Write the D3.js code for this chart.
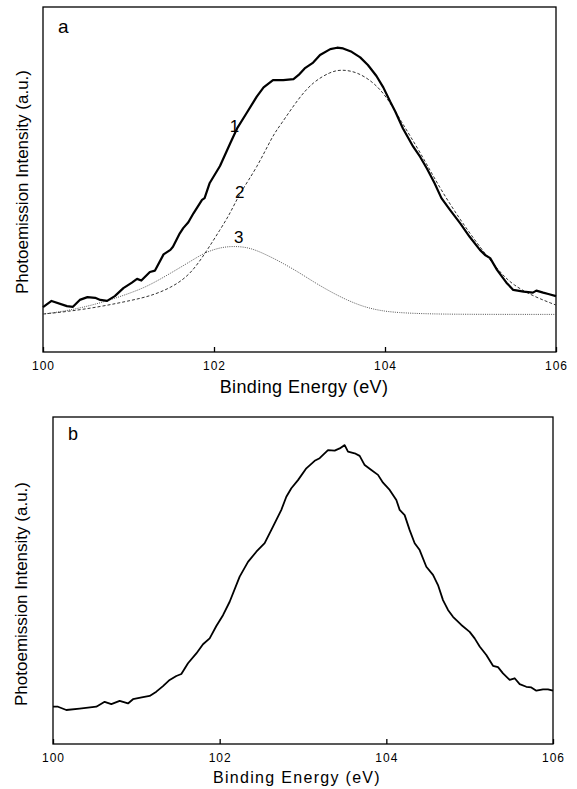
<!DOCTYPE html>
<html>
<head>
<meta charset="utf-8">
<script src="https://cdn.jsdelivr.net/npm/d3@7.9.0/dist/d3.min.js"></script>
<style>
  body { margin: 0; background: #fff; }
  svg text { font-family: "Liberation Sans", Arial, Helvetica, sans-serif; fill: #000; }
</style>
</head>
<body>
<svg id="chart" width="577" height="789"></svg>
<script>
// panel a: measured spectrum (1) and the two fitted components (2, 3)
const energyA1 = [100.00, 100.10, 100.28, 100.35, 100.43, 100.52, 100.61, 100.67, 100.75, 100.84,
  100.94, 101.04, 101.10, 101.15, 101.25, 101.31, 101.41, 101.49, 101.52, 101.60,
  101.64, 101.70, 101.76, 101.86, 101.89, 101.95, 102.07, 102.19, 102.27, 102.38,
  102.50, 102.58, 102.69, 102.81, 102.93, 102.99, 103.06, 103.16, 103.24, 103.36,
  103.44, 103.51, 103.61, 103.71, 103.80, 103.90, 103.98, 104.06, 104.12, 104.21,
  104.33, 104.41, 104.49, 104.58, 104.66, 104.76, 104.88, 104.99, 105.11, 105.17,
  105.23, 105.31, 105.42, 105.50, 105.62, 105.73, 105.77, 105.85, 105.91, 106.00];
const intensityA1 = [13.0, 14.8, 13.3, 13.1, 15.1, 15.9, 15.7, 15.1, 14.8, 16.2,
  18.5, 20.1, 21.2, 20.7, 23.2, 23.6, 28.3, 29.6, 30.5, 34.4,
  35.9, 37.6, 40.2, 44.1, 44.6, 49.0, 53.9, 60.5, 64.8, 69.2,
  74.0, 76.7, 78.8, 78.8, 79.1, 80.3, 82.2, 83.9, 86.1, 87.8,
  88.2, 88.0, 87.0, 85.4, 83.2, 80.0, 76.7, 72.6, 69.7, 64.8,
  59.5, 56.6, 53.2, 48.9, 44.6, 41.2, 37.3, 33.4, 29.6, 28.1,
  27.2, 23.8, 20.1, 18.0, 17.5, 17.2, 17.8, 17.2, 16.8, 16.2];

const energyA2 = [100.00, 100.28, 100.67, 101.06, 101.25, 101.49, 101.72, 101.91, 102.07, 102.19,
  102.30, 102.50, 102.69, 102.77, 102.99, 103.16, 103.36, 103.49, 103.67, 103.86,
  104.02, 104.18, 104.41, 104.64, 104.88, 105.11, 105.35, 105.50, 105.73, 106.00];
const intensityA2 = [11.0, 11.7, 13.1, 15.1, 16.2, 18.5, 22.3, 29.1, 35.4, 40.2,
  46.0, 53.3, 62.9, 65.5, 73.6, 78.3, 81.2, 81.9, 81.2, 78.3,
  74.0, 67.2, 58.0, 47.5, 38.3, 30.4, 22.9, 19.4, 16.2, 13.6];

const energyA3 = [100.00, 100.28, 100.67, 101.06, 101.25, 101.49, 101.72, 101.89, 102.07, 102.23,
  102.42, 102.62, 102.81, 103.01, 103.16, 103.36, 103.55, 103.75, 103.94, 104.14,
  104.53, 105.11, 106.00];
const intensityA3 = [11.0, 11.9, 14.1, 17.4, 19.4, 22.8, 26.2, 28.8, 30.3, 30.7,
  30.3, 28.1, 25.7, 22.8, 20.4, 17.5, 15.1, 13.1, 12.0, 11.4,
  11.0, 10.9, 10.9];

const curveLabels = ["1", "2", "3"];
const labelEnergy = [102.24, 102.30, 102.29];
const labelIntensity = [63.9, 44.7, 31.5];

// panel b: single spectrum
const energyB = [100.00, 100.06, 100.16, 100.32, 100.52, 100.62, 100.70, 100.80, 100.90, 100.96,
  101.08, 101.16, 101.24, 101.32, 101.40, 101.48, 101.54, 101.62, 101.72, 101.80,
  101.88, 101.96, 102.04, 102.12, 102.24, 102.34, 102.44, 102.54, 102.64, 102.74,
  102.80, 102.86, 102.94, 103.04, 103.14, 103.20, 103.30, 103.38, 103.44, 103.50,
  103.54, 103.62, 103.68, 103.74, 103.82, 103.90, 103.96, 104.04, 104.12, 104.16,
  104.22, 104.28, 104.34, 104.40, 104.48, 104.56, 104.62, 104.68, 104.74, 104.80,
  104.90, 105.00, 105.06, 105.12, 105.20, 105.28, 105.34, 105.40, 105.48, 105.54,
  105.60, 105.68, 105.74, 105.80, 105.88, 105.94, 106.00];
const intensityB = [11.4, 11.4, 10.4, 10.8, 11.4, 12.9, 12.2, 13.2, 12.4, 13.7,
  14.3, 14.7, 16.0, 17.7, 19.6, 20.8, 21.4, 24.7, 27.7, 30.5,
  32.3, 36.1, 39.4, 43.5, 51.2, 55.7, 58.8, 61.4, 66.5, 71.6,
  75.6, 78.2, 80.7, 84.3, 86.6, 87.4, 89.9, 89.7, 90.4, 91.4,
  89.4, 88.9, 88.1, 85.3, 83.8, 82.3, 79.9, 77.7, 74.6, 71.6,
  70.0, 65.4, 61.4, 59.3, 54.2, 51.7, 48.6, 44.0, 41.0, 38.9,
  36.4, 34.3, 32.3, 29.8, 27.2, 23.9, 23.5, 21.6, 19.6, 20.1,
  18.3, 17.5, 17.3, 16.3, 16.7, 16.7, 16.3];

const xTicks = [100, 102, 104, 106];
const xTitle = "Binding Energy (eV)";
const yTitle = "Photoemission Intensity (a.u.)";

const svg = d3.select("#chart");

function drawPanel(p) {
  const x = d3.scaleLinear().domain([100, 106]).range([p.left, p.right]);
  const y = d3.scaleLinear().domain([0, 100]).range([p.bottom, p.top]);
  const g = svg.append("g");

  g.append("rect")
    .attr("x", p.left).attr("y", p.top)
    .attr("width", p.right - p.left).attr("height", p.bottom - p.top)
    .attr("fill", "none").attr("stroke", "#000").attr("stroke-width", 1.3);

  const axis = g.append("g")
    .attr("transform", `translate(0,${p.bottom})`)
    .call(d3.axisBottom(x).tickValues(xTicks).tickFormat(d3.format("d"))
      .tickSizeInner(-5).tickSizeOuter(0).tickPadding(p.tickPad));
  axis.select(".domain").remove();
  axis.selectAll("line").attr("stroke", "#000").attr("stroke-width", 1.3);
  axis.selectAll("text")
    .attr("font-size", p.tickFont).attr("letter-spacing", "1px")
    .attr("font-family", "Liberation Sans, Arial, sans-serif");

  g.append("text")
    .attr("x", p.xTitleX).attr("y", p.xTitleY)
    .attr("text-anchor", "middle").attr("font-size", p.titleFont)
    .attr("letter-spacing", p.titleSpacing)
    .text(xTitle);

  g.append("text")
    .attr("transform", `translate(${p.yTitleX},${p.yTitleY}) rotate(-90)`)
    .attr("text-anchor", "middle").attr("font-size", p.yFont)
    .text(yTitle);

  g.append("text")
    .attr("x", p.left + 15).attr("y", p.top + p.letterDy)
    .attr("font-size", p.letterFont)
    .text(p.letter);

  const line = (curve) => d3.line()
    .x(d => x(d[0])).y(d => y(d[1])).curve(curve);

  p.series.forEach(s => {
    g.append("path")
      .datum(d3.zip(s.e, s.i))
      .attr("d", line(s.curve))
      .attr("fill", "none")
      .attr("stroke", s.color)
      .attr("stroke-width", s.width)
      .attr("stroke-dasharray", s.dash)
      .attr("stroke-linejoin", "round");
  });

  if (p.labels) {
    g.selectAll(".clabel")
      .data(p.labels)
      .join("text")
      .attr("class", "clabel")
      .attr("x", d => x(d[1]))
      .attr("y", d => y(d[2]))
      .attr("text-anchor", "middle")
      .attr("font-size", 17)
      .text(d => d[0]);
  }
}

drawPanel({
  left: 43, right: 556, top: 7, bottom: 352,
  tickPad: 9.5, tickFont: 12,
  xTitleX: 304, xTitleY: 393, titleFont: 18, titleSpacing: "0.4px",
  yTitleX: 28, yTitleY: 182, yFont: 17,
  letter: "a", letterDy: 26, letterFont: 19,
  series: [
    { e: energyA3, i: intensityA3, curve: d3.curveBasis, color: "#555", width: 1, dash: "1,1.2" },
    { e: energyA2, i: intensityA2, curve: d3.curveBasis, color: "#333", width: 1, dash: "3,2" },
    { e: energyA1, i: intensityA1, curve: d3.curveLinear, color: "#000", width: 2.2, dash: null }
  ],
  labels: d3.zip(curveLabels, labelEnergy, labelIntensity)
});

drawPanel({
  left: 53, right: 553, top: 417, bottom: 744,
  tickPad: 9, tickFont: 12,
  xTitleX: 297, xTitleY: 783, titleFont: 16, titleSpacing: "1.3px",
  yTitleX: 27, yTitleY: 594, yFont: 17,
  letter: "b", letterDy: 23, letterFont: 18,
  series: [
    { e: energyB, i: intensityB, curve: d3.curveLinear, color: "#000", width: 1.8, dash: null }
  ]
});
</script>
</body>
</html>
